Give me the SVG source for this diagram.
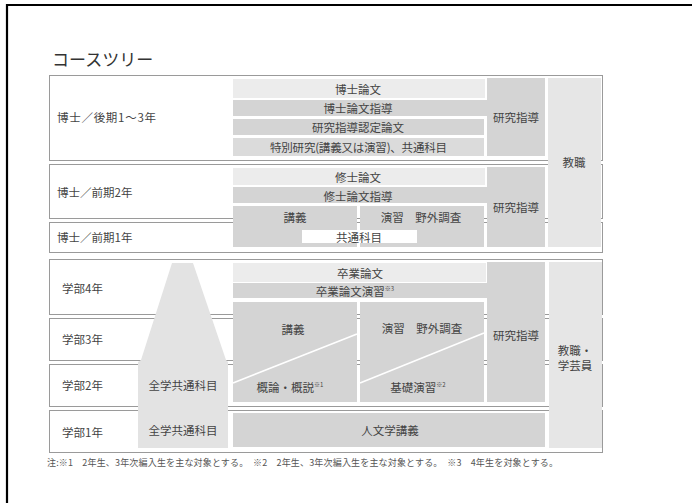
<svg xmlns="http://www.w3.org/2000/svg" width="692" height="503" viewBox="0 0 692 503">
<style>
.row{fill:#fff;stroke:#9a9a9a;stroke-width:1}
.dk{fill:#d4d4d4}
.lt{fill:#ececec}
.md{fill:#dbdbdb}
.col{fill:#e6e6e6}
.py{fill:#e3e3e3}
.t{font-family:"Noto Sans CJK JP","Noto Sans CJK SC",sans-serif;font-size:11.5px;fill:#444;text-anchor:middle;dominant-baseline:central}
.l{text-anchor:start}
.sup{font-size:6px}
.diag{stroke:#fff;stroke-width:1.6;fill:none}
</style>
<path d="M692 5H7V503" fill="none" stroke="#000" stroke-width="2.2"/>
<text x="52" y="66" style="font-family:'Noto Sans CJK JP',sans-serif;font-size:17px;fill:#333">コースツリー</text>

<g id="rows">
<g id="row-d-late"><rect class="row" x="49.5" y="75.5" width="553" height="85"/><text class="t l" x="57" y="117" textLength="99">博士／後期1～3年</text></g>
<g id="row-d-early2"><rect class="row" x="49.5" y="164.5" width="553" height="54"/><text class="t l" x="57" y="192">博士／前期2年</text></g>
<g id="row-d-early1"><rect class="row" x="49.5" y="222.5" width="553" height="30"/><text class="t l" x="57" y="237">博士／前期1年</text></g>
<g id="row-u4"><rect class="row" x="49.5" y="259.5" width="553" height="55"/><text class="t l" x="62" y="288">学部4年</text></g>
<g id="row-u3"><rect class="row" x="49.5" y="318.5" width="553" height="42"/><text class="t l" x="62" y="339">学部3年</text></g>
<g id="row-u2"><rect class="row" x="49.5" y="364.5" width="553" height="42"/><text class="t l" x="62" y="385">学部2年</text></g>
<g id="row-u1"><rect class="row" x="49.5" y="410.5" width="553" height="42"/><text class="t l" x="62" y="432">学部1年</text></g>
</g>

<g id="doctoral-late">
<g id="hakase-ronbun"><rect class="lt" x="233" y="79" width="252" height="19"/><text class="t" x="358" y="88.5">博士論文</text></g>
<g id="hakase-shido"><rect class="dk" x="233" y="100" width="254" height="16"/><text class="t" x="358" y="108">博士論文指導</text></g>
<g id="nintei"><rect class="dk" x="233" y="119" width="251" height="16"/><text class="t" x="358" y="127">研究指導認定論文</text></g>
<g id="tokubetsu"><rect class="md" x="233" y="138" width="251" height="18"/><text class="t" x="358.5" y="147" textLength="177">特別研究(講義又は演習)、共通科目</text></g>
<g id="kenkyu-d1"><rect class="dk" x="487" y="78" width="58" height="78"/><text class="t" x="516" y="117">研究指導</text></g>
</g>

<g id="doctoral-early">
<g id="shushi-ronbun"><rect class="lt" x="233" y="168" width="252" height="17"/><text class="t" x="358" y="177">修士論文</text></g>
<g id="shushi-shido"><rect class="dk" x="233" y="187" width="254" height="16"/><text class="t" x="358" y="195.5">修士論文指導</text></g>
<g id="kogi-d"><rect class="dk" x="233" y="206" width="124" height="41"/><text class="t" x="295" y="217">講義</text></g>
<g id="enshu-d"><rect class="dk" x="360" y="206" width="124" height="41"/><text class="t" x="421" y="217">演習　野外調査</text></g>
<g id="kyotsu-d"><rect fill="#fff" x="302" y="230" width="115" height="13"/><text class="t" x="359" y="236.5">共通科目</text></g>
<g id="kenkyu-d2"><rect class="dk" x="487" y="167" width="58" height="80"/><text class="t" x="516" y="207">研究指導</text></g>
</g>

<g id="kyoshoku"><rect class="col" x="548" y="78" width="53" height="169"/><text class="t" x="574" y="162">教職</text></g>

<g id="undergrad">
<g id="zengaku"><path class="py" d="M172 263H193L226 360L228 362V448H138V362L141 360Z"/><text class="t" x="183" y="385">全学共通科目</text><text class="t" x="183" y="430">全学共通科目</text></g>
<g id="sotsuron"><rect class="lt" x="233" y="263" width="253" height="19"/><text class="t" x="360" y="272.5">卒業論文</text></g>
<g id="sotsuron-enshu"><rect class="dk" x="233" y="283" width="254" height="15"/><text class="t" x="355" y="290.5">卒業論文演習<tspan class="sup" dy="-3">※3</tspan></text></g>
<g id="kogi-u"><rect class="dk" x="233" y="302" width="124" height="100"/><line class="diag" x1="233" y1="383" x2="357" y2="334"/><text class="t" x="293" y="329">講義</text><text class="t" x="290" y="387">概論・概説<tspan class="sup" dy="-3">※1</tspan></text></g>
<g id="enshu-u"><rect class="dk" x="360" y="302" width="124" height="100"/><line class="diag" x1="360" y1="383" x2="484" y2="333"/><text class="t" x="422" y="328">演習　野外調査</text><text class="t" x="418" y="387">基礎演習<tspan class="sup" dy="-3">※2</tspan></text></g>
<g id="kenkyu-u"><rect class="dk" x="487" y="262" width="58" height="140"/><text class="t" x="516" y="335">研究指導</text></g>
<g id="jinbun"><rect class="dk" x="233" y="413" width="312" height="34"/><text class="t" x="390" y="430">人文学講義</text></g>
<g id="kyoshoku-gakugei"><rect class="col" x="549" y="262" width="53" height="186"/><text class="t" x="575" y="350">教職・</text><text class="t" x="575" y="365">学芸員</text></g>
</g>

<g id="connectors"></g>

<text x="47" y="466" textLength="511" lengthAdjust="spacing" style="font-family:'Noto Sans CJK JP',sans-serif;font-size:9px;fill:#555">注:※1　2年生、3年次編入生を主な対象とする。　※2　2年生、3年次編入生を主な対象とする。　※3　4年生を対象とする。</text>
</svg>
